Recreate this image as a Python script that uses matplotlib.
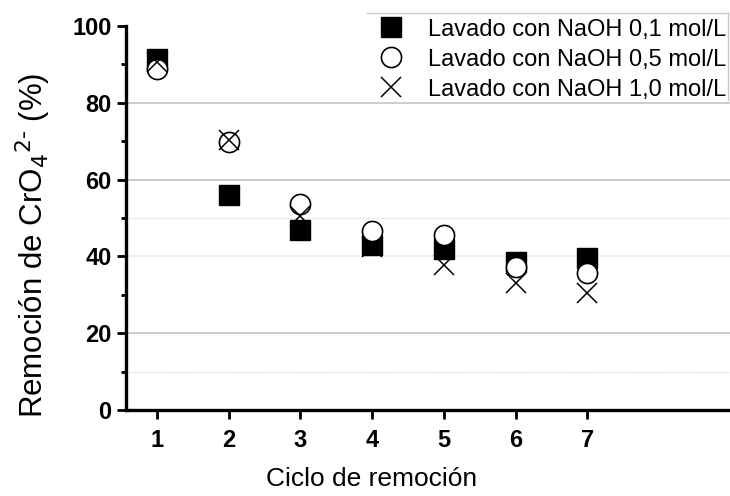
import matplotlib
matplotlib.use("Agg")
import matplotlib.pyplot as plt
from matplotlib.lines import Line2D
from matplotlib.ticker import MultipleLocator

plt.rcParams['font.family'] = ['Liberation Sans', 'DejaVu Sans']

# Remoción de cromato por ciclo, para cada concentración de NaOH en el lavado
ciclos = [1, 2, 3, 4, 5, 6, 7]
naoh_01 = [91.5, 56.0, 47.0, 43.0, 41.8, 38.5, 39.5]
naoh_05 = [88.8, 69.8, 53.6, 46.6, 45.6, 37.2, 35.8]
naoh_10 = [90.5, 70.3, 50.5, 42.5, 37.8, 33.0, 30.5]

etiquetas = ["Lavado con NaOH 0,1 mol/L",
             "Lavado con NaOH 0,5 mol/L",
             "Lavado con NaOH 1,0 mol/L"]

fig = plt.figure(figsize=(7.30, 4.96), dpi=100)
ax = fig.add_axes([126 / 730, 1 - 410 / 496, 1 - 126 / 730, (410 - 26) / 496])

# lineas de referencia horizontales
for y in (20, 60, 80):
    ax.axhline(y, color="#c4c4c4", lw=1.2, zorder=0)
ax.axhline(40, color="#ececec", lw=1.2, zorder=0)
for y in (10, 50):
    ax.axhline(y, color="#dcdcdc", lw=1.0, ls=(0, (1, 1)), zorder=0)

h1, = ax.plot(ciclos, naoh_01, ls="none", marker="s", ms=14, mfc="black",
              mec="black", zorder=3)
h2, = ax.plot(ciclos, naoh_05, ls="none", marker="o", ms=14.5, mfc="white",
              mec="black", mew=1.2, zorder=4)
h3, = ax.plot(ciclos, naoh_10, ls="none", marker="x", ms=15, mec="black",
              mew=1.1, zorder=5)

ax.set_xlim(0.57, 8.99)
ax.set_ylim(0, 100)
ax.set_xticks(ciclos)
ax.yaxis.set_major_locator(MultipleLocator(20))
ax.yaxis.set_minor_locator(MultipleLocator(10))

for side in ("top", "right"):
    ax.spines[side].set_visible(False)
for side in ("left", "bottom"):
    ax.spines[side].set_linewidth(2.4)

ax.tick_params(axis="both", which="major", direction="out", length=6.5,
               width=2.0, color="black")
ax.tick_params(axis="y", which="minor", direction="out", length=3.5, width=2.0)
ax.tick_params(axis="y", labelsize=17, pad=4)
ax.tick_params(axis="x", labelsize=17, pad=7)
for lbl in ax.get_xticklabels() + ax.get_yticklabels():
    lbl.set_fontweight("bold")

ax.set_xlabel("Ciclo de remoción", fontsize=19, va="center")
ax.xaxis.set_label_coords((372 - 126) / 604, -(479 - 410) / 384)
ax.set_ylabel(r"Remoción de CrO$_4$$^{2\text{-}}$ (%)", fontsize=22.5,
              va="center")
ax.yaxis.set_label_coords((33 - 126) / 604, (410 - 245) / 384)

leg = fig.legend([h1, h2, h3], etiquetas, loc="upper right",
                 bbox_to_anchor=(1.018, 0.996), frameon=False, fontsize=17,
                 handletextpad=0.9, labelspacing=0.34, borderpad=0.2,
                 handlelength=1.4)

# borde superior y derecho del recuadro de la leyenda
fig.add_artist(Line2D([367 / 730, 728 / 730], [1 - 13 / 496, 1 - 13 / 496],
                      color="#c8c8c8", lw=1.0))
fig.add_artist(Line2D([728 / 730, 728 / 730], [1 - 13 / 496, 1 - 100 / 496],
                      color="#c8c8c8", lw=1.0))

fig.savefig("out.png", dpi=100)
